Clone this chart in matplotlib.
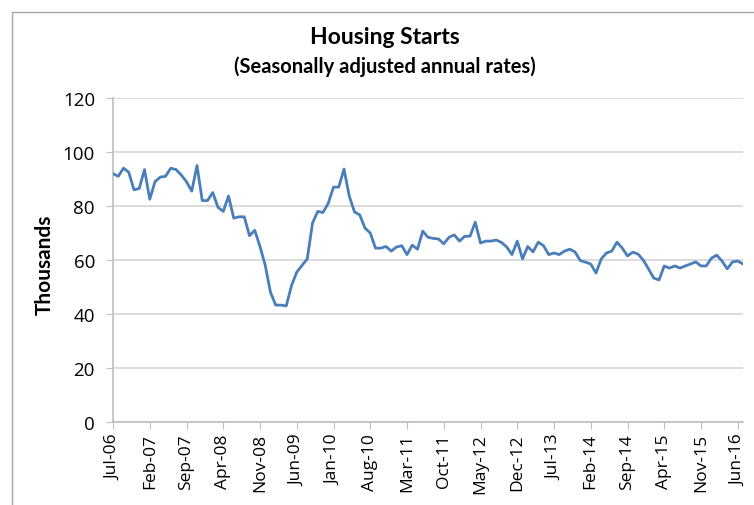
import numpy as np
import matplotlib.pyplot as plt
from matplotlib.patches import Rectangle

# monthly housing starts, Jul-06 .. Jul-16 (thousands, SAAR)
starts = [
    92, 91, 94, 92.5, 86, 86.5, 93.5, 82.5, 89, 90.7,
    91, 94, 93.5, 91.5, 89, 85.5, 95, 82, 82, 85,
    79.5, 78, 83.7, 75.5, 76, 76, 69, 71, 65, 58,
    48, 43.3, 43.3, 43, 50.5, 55.5, 58, 60.4, 73.7, 78,
    77.6, 81, 87, 87, 93.7, 83.7, 77.8, 76.7, 71.8, 70,
    64.4, 64.4, 65, 63.3, 64.8, 65.3, 62, 65.5, 64, 70.7,
    68.4, 68, 67.8, 66, 68.4, 69.3, 67, 68.8, 68.8, 74,
    66.3, 67, 67, 67.4, 66.5, 64.8, 62, 67, 60.4, 65,
    63, 66.6, 65.3, 62, 62.6, 62, 63.3, 64, 63, 59.8,
    59.2, 58.5, 55.2, 60.4, 62.6, 63.3, 66.6, 64.4, 61.5, 62.9,
    62.2, 60, 56.7, 53.3, 52.6, 57.8, 57, 57.8, 57, 57.8,
    58.5, 59.3, 57.8, 57.8, 60.7, 61.8, 59.6, 56.7, 59.3, 59.6,
    58.5,
]
tick_labels = ['Jul-06', 'Feb-07', 'Sep-07', 'Apr-08', 'Nov-08', 'Jun-09',
               'Jan-10', 'Aug-10', 'Mar-11', 'Oct-11', 'May-12', 'Dec-12',
               'Jul-13', 'Feb-14', 'Sep-14', 'Apr-15', 'Nov-15', 'Jun-16']
y_ticks = [0, 20, 40, 60, 80, 100, 120]

W, H = 754, 506
fig = plt.figure(figsize=(W / 100, H / 100), dpi=100)

# chart area border
fig.patches.append(Rectangle((12 / W, -0.1), 1.2, 1.1 - 13 / H,
                             transform=fig.transFigure, fill=False,
                             edgecolor='#a6a6a6', lw=1))

ax = fig.add_axes([113 / W, (H - 423) / H, (743 - 113) / W, (423 - 99) / H])

x = np.arange(len(starts))
ax.plot(x, starts, color='#4a7ebb', lw=2.0, zorder=3)

ax.set_xlim(0, len(starts) - 1)
ax.set_ylim(0, 120)
ax.set_yticks(y_ticks)
ax.grid(axis='y', color='#d9d9d9', lw=1.3)
ax.set_axisbelow(True)

ax.set_xticks(np.arange(len(tick_labels)) * 7)
ax.set_xticklabels(tick_labels, rotation=90, fontsize=12.5, family='Open Sans')
for lab in ax.get_yticklabels():
    lab.set_fontsize(13.5)
    lab.set_family('Open Sans')

for s in ['top', 'right']:
    ax.spines[s].set_visible(False)
for s in ['left', 'bottom']:
    ax.spines[s].set_color('#bfbfbf')
    ax.spines[s].set_linewidth(1.2)
ax.tick_params(axis='x', length=5, color='#bfbfbf', pad=3)
ax.tick_params(axis='y', length=5, color='#bfbfbf', pad=8)

fig.text(45 / W, 1 - 265 / H, 'Thousands', rotation=90, ha='center', va='center',
         fontsize=15, fontweight='bold', family='Lato')

fig.text(385 / W, 1 - 37 / H, 'Housing Starts', ha='center', va='center',
         fontsize=16.5, fontweight='bold', family='Lato')
fig.text(385 / W, 1 - 67 / H, '(Seasonally adjusted annual rates)', ha='center',
         va='center', fontsize=14.5, fontweight='bold', family='Lato')

fig.savefig('out.png', dpi=100)
